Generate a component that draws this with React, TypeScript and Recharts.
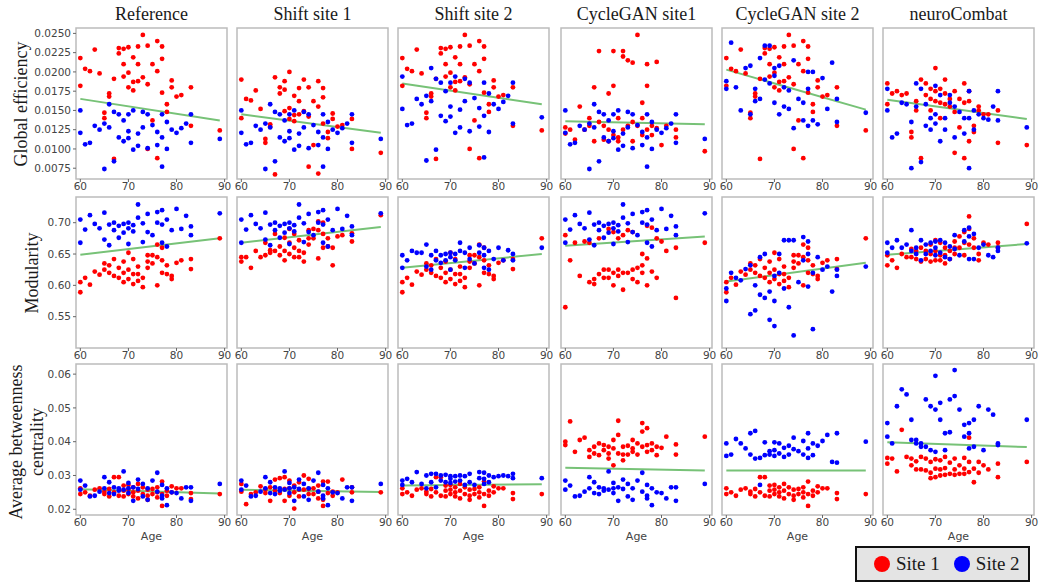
import React from 'react';
import { ScatterChart, Scatter, XAxis, YAxis, ReferenceArea, ReferenceLine } from 'recharts';

// ages are shared by every panel (same subjects)
const redAges = [60,60,61,62,63,64,65,65,66,66,67,67,68,68,69,69,69,70,70,70,71,71,71,72,72,72,73,73,74,74,74,75,75,76,76,76,77,77,77,78,78,79,79,80,81,83,83,89];
const blueAges = [60,60,61,62,63,64,65,65,66,66,67,67,68,68,69,69,70,70,70,71,71,72,72,73,73,74,74,75,76,76,77,77,77,78,78,79,80,81,82,83,83,89];

const titles = ['Reference', 'Shift site 1', 'Shift site 2', 'CycleGAN site1', 'CycleGAN site 2', 'neuroCombat'];
const xTicks = [60, 70, 80, 90];

// Global efficiency
const refRed1 = [0.0218,0.0182, 0.0204, 0.0201, 0.0229, 0.0198, 0.0147,0.0140, 0.0172,0.0168, 0.0191,0.0087, 0.0231,0.0224, 0.0210,0.0194,0.0230, 0.0232,0.0199,0.0180, 0.0219,0.0187,0.0176, 0.0233,0.0210,0.0188, 0.0248,0.0193, 0.0234,0.0184,0.0100, 0.0210,0.0137, 0.0240,0.0201,0.0088, 0.0233,0.0217,0.0173, 0.0158,0.0148, 0.0189,0.0180, 0.0168, 0.0170, 0.0180,0.0130, 0.0124];
const shift1Red1 = [0.0190,0.0140, 0.0165, 0.0163, 0.0176, 0.0152, 0.0113,0.0108, 0.0132,0.0129, 0.0193,0.0067, 0.0180,0.0172, 0.0188,0.0149,0.0177, 0.0200,0.0153,0.0139, 0.0169,0.0144,0.0136, 0.0179,0.0162,0.0145, 0.0190,0.0149, 0.0180,0.0142,0.0077, 0.0162,0.0105, 0.0188,0.0155,0.0068, 0.0179,0.0167,0.0133, 0.0122,0.0114, 0.0146,0.0139, 0.0129, 0.0131, 0.0139,0.0100, 0.0095];
const cg1Red1 = [0.0128,0.0120, 0.0125, 0.0112, 0.0155, 0.0125, 0.0140,0.0130, 0.0180,0.0110, 0.0227,0.0135, 0.0130,0.0112, 0.0172,0.0125,0.0110, 0.0227,0.0182,0.0118, 0.0140,0.0115,0.0110, 0.0227,0.0220,0.0125, 0.0215,0.0130, 0.0212,0.0135,0.0110, 0.0248,0.0130, 0.0160,0.0140,0.0118, 0.0210,0.0182,0.0125, 0.0130,0.0118, 0.0213,0.0127, 0.0105, 0.0130, 0.0125,0.0115, 0.0097];
const combatRed1 = [0.0185,0.0158, 0.0172, 0.0175, 0.0170, 0.0172, 0.0122,0.0115, 0.0162,0.0150, 0.0190,0.0088, 0.0185,0.0170, 0.0178,0.0165,0.0150, 0.0205,0.0175,0.0162, 0.0178,0.0160,0.0140, 0.0190,0.0172,0.0158, 0.0165,0.0155, 0.0175,0.0148,0.0095, 0.0165,0.0128, 0.0185,0.0160,0.0088, 0.0175,0.0162,0.0110, 0.0130,0.0122, 0.0155,0.0150, 0.0145, 0.0145, 0.0150,0.0108, 0.0105];
const refBlue1 = [0.0150,0.0121, 0.0106, 0.0108, 0.0130, 0.0125, 0.0133,0.0074, 0.0158,0.0128, 0.0148,0.0084, 0.0115,0.0145, 0.0137,0.0110, 0.0145,0.0123,0.0114, 0.0150,0.0099, 0.0120,0.0104, 0.0148,0.0128, 0.0145,0.0101, 0.0131, 0.0122,0.0105, 0.0145,0.0115,0.0077, 0.0135,0.0100, 0.0125, 0.0121, 0.0127, 0.0133, 0.0145,0.0108, 0.0113];
const shift2Blue1 = [0.0194,0.0152, 0.0131, 0.0133, 0.0165, 0.0158, 0.0169,0.0085, 0.0205,0.0162, 0.0191,0.0099, 0.0143,0.0186, 0.0175,0.0136, 0.0186,0.0155,0.0142, 0.0194,0.0121, 0.0151,0.0128, 0.0191,0.0162, 0.0186,0.0123, 0.0166, 0.0153,0.0129, 0.0186,0.0143,0.0089, 0.0172,0.0122, 0.0158, 0.0152, 0.0161, 0.0169, 0.0186,0.0133, 0.0141];
const cg2Blue1 = [0.0188,0.0178, 0.0238, 0.0180, 0.0150, 0.0205, 0.0208,0.0145, 0.0178,0.0162, 0.0165,0.0218, 0.0234,0.0190, 0.0234,0.0185, 0.0195,0.0160,0.0205, 0.0208,0.0145, 0.0155,0.0180, 0.0176,0.0152, 0.0215,0.0127, 0.0165, 0.0160,0.0137, 0.0200,0.0178,0.0130, 0.0137,0.0200, 0.0132, 0.0192, 0.0152, 0.0212, 0.0165,0.0135, 0.0147];
const combatBlue1 = [0.0178,0.0150, 0.0115, 0.0120, 0.0160, 0.0158, 0.0135,0.0075, 0.0185,0.0155, 0.0178,0.0083, 0.0130,0.0158, 0.0140,0.0125, 0.0182,0.0145,0.0133, 0.0170,0.0110, 0.0140,0.0125, 0.0170,0.0160, 0.0155,0.0115, 0.0148, 0.0140,0.0120, 0.0175,0.0140,0.0075, 0.0150,0.0125, 0.0145, 0.0140, 0.0138, 0.0155, 0.0175,0.0137, 0.0128];
const fits1 = [[0.0165,0.0137],[0.0145,0.0121],[0.0185,0.0158],[0.0136,0.0132],[0.0203,0.0151],[0.0164,0.0139]];

// Modularity
const refRed2 = [0.605,0.589, 0.612, 0.601, 0.622, 0.617, 0.635,0.625, 0.632,0.620, 0.642,0.615, 0.628,0.612, 0.638,0.620,0.605, 0.652,0.625,0.610, 0.642,0.618,0.602, 0.630,0.618,0.607, 0.612,0.597, 0.648,0.638,0.628, 0.648,0.635, 0.665,0.645,0.600, 0.660,0.640,0.620, 0.632,0.618, 0.615,0.610, 0.636, 0.640, 0.642,0.626, 0.675];
const shift1Red2 = [0.645,0.638, 0.645, 0.628, 0.655, 0.645, 0.668,0.648, 0.656,0.652, 0.682,0.655, 0.662,0.648, 0.676,0.655,0.640, 0.690,0.668,0.650, 0.682,0.660,0.645, 0.672,0.655,0.645, 0.652,0.638, 0.688,0.675,0.665, 0.690,0.675, 0.702,0.688,0.643, 0.700,0.682,0.660, 0.675,0.662, 0.660,0.632, 0.678, 0.680, 0.683,0.670, 0.712];
const cg1Red2 = [0.680,0.565, 0.640, 0.668, 0.615, 0.670, 0.668,0.605, 0.610,0.602, 0.675,0.618, 0.625,0.612, 0.690,0.625,0.612, 0.685,0.620,0.600, 0.675,0.625,0.615, 0.680,0.620,0.593, 0.688,0.620, 0.685,0.625,0.610, 0.628,0.605, 0.650,0.632,0.620, 0.695,0.643,0.600, 0.692,0.622, 0.675,0.612, 0.670, 0.655, 0.660,0.580, 0.668];
const combatRed2 = [0.648,0.632, 0.640, 0.628, 0.650, 0.645, 0.658,0.645, 0.655,0.642, 0.660,0.638, 0.655,0.642, 0.665,0.650,0.638, 0.672,0.655,0.640, 0.668,0.648,0.640, 0.660,0.648,0.635, 0.655,0.642, 0.670,0.660,0.650, 0.678,0.660, 0.685,0.668,0.648, 0.710,0.690,0.665, 0.675,0.660, 0.650,0.640, 0.668, 0.665, 0.668,0.660, 0.698];
const refBlue2 = [0.705,0.668, 0.689, 0.712, 0.698, 0.691, 0.716,0.673, 0.697,0.664, 0.700,0.688, 0.695,0.676, 0.698,0.684, 0.700,0.691,0.666, 0.696,0.686, 0.729,0.708, 0.699,0.669, 0.714,0.685, 0.680, 0.717,0.700, 0.720,0.697,0.668, 0.705,0.662, 0.688, 0.722, 0.690, 0.711, 0.694,0.680, 0.715];
const shift2Blue2 = [0.648,0.628, 0.640, 0.655, 0.652, 0.652, 0.665,0.630, 0.648,0.625, 0.655,0.640, 0.648,0.636, 0.650,0.640, 0.652,0.645,0.625, 0.650,0.640, 0.668,0.655, 0.652,0.628, 0.660,0.642, 0.635, 0.664,0.652, 0.660,0.648,0.628, 0.655,0.625, 0.642, 0.660, 0.640, 0.656, 0.650,0.640, 0.660];
const cg2Blue2 = [0.595,0.575, 0.620, 0.612, 0.608, 0.626, 0.632,0.554, 0.600,0.560, 0.645,0.585, 0.650,0.580, 0.590,0.545, 0.615,0.575,0.535, 0.650,0.620, 0.672,0.595, 0.672,0.565, 0.672,0.520, 0.605, 0.677,0.640, 0.670,0.650,0.598, 0.620,0.530, 0.645, 0.625, 0.630, 0.590, 0.625,0.615, 0.630];
const combatBlue2 = [0.668,0.652, 0.660, 0.672, 0.660, 0.665, 0.688,0.655, 0.660,0.650, 0.672,0.640, 0.665,0.650, 0.668,0.655, 0.670,0.660,0.648, 0.672,0.652, 0.668,0.645, 0.662,0.642, 0.680,0.658, 0.648, 0.688,0.670, 0.692,0.678,0.642, 0.682,0.642, 0.660, 0.665, 0.648, 0.645, 0.660,0.655, 0.667];
const fits2 = [[0.649,0.675],[0.668,0.693],[0.628,0.650],[0.663,0.678],[0.606,0.636],[0.649,0.666]];

// Average betweenness centrality
const refRed3 = [0.0262,0.0245, 0.0250, 0.0240, 0.0258, 0.0262, 0.0252,0.0245, 0.0260,0.0238, 0.0295,0.0250, 0.0295,0.0240, 0.0270,0.0255,0.0238, 0.0272,0.0258,0.0245, 0.0265,0.0250,0.0238, 0.0275,0.0255,0.0232, 0.0265,0.0245, 0.0258,0.0240,0.0228, 0.0260,0.0245, 0.0265,0.0250,0.0235, 0.0282,0.0245,0.0210, 0.0255,0.0240, 0.0268,0.0250, 0.0262, 0.0262, 0.0248,0.0230, 0.0245];
const shift1Red3 = [0.0275,0.0252, 0.0215, 0.0245, 0.0250, 0.0268, 0.0258,0.0248, 0.0265,0.0225, 0.0288,0.0255, 0.0292,0.0248, 0.0295,0.0260,0.0225, 0.0285,0.0262,0.0240, 0.0270,0.0250,0.0202, 0.0280,0.0258,0.0238, 0.0300,0.0258, 0.0290,0.0260,0.0245, 0.0262,0.0245, 0.0270,0.0252,0.0232, 0.0282,0.0228,0.0210, 0.0282,0.0248, 0.0252,0.0240, 0.0250, 0.0288, 0.0265,0.0250, 0.0250];
const cg1Red3 = [0.0400,0.0390, 0.0460, 0.0370, 0.0405, 0.0412, 0.0375,0.0355, 0.0385,0.0365, 0.0395,0.0360, 0.0390,0.0375, 0.0385,0.0365,0.0350, 0.0405,0.0380,0.0330, 0.0462,0.0420,0.0365, 0.0385,0.0362,0.0345, 0.0388,0.0362, 0.0405,0.0380,0.0370, 0.0395,0.0362, 0.0455,0.0430,0.0385, 0.0440,0.0390,0.0370, 0.0395,0.0375, 0.0385,0.0360, 0.0382, 0.0415, 0.0392,0.0362, 0.0415];
const combatRed3 = [0.0352,0.0335, 0.0350, 0.0312, 0.0435, 0.0355, 0.0350,0.0330, 0.0342,0.0318, 0.0355,0.0318, 0.0350,0.0315, 0.0340,0.0308,0.0292, 0.0348,0.0320,0.0295, 0.0345,0.0318,0.0300, 0.0355,0.0322,0.0302, 0.0338,0.0305, 0.0350,0.0318,0.0302, 0.0330,0.0305, 0.0352,0.0320,0.0305, 0.0412,0.0340,0.0310, 0.0320,0.0280, 0.0340,0.0308, 0.0330, 0.0318, 0.0335,0.0295, 0.0340];
const refBlue3 = [0.0285,0.0258, 0.0270, 0.0238, 0.0240, 0.0252, 0.0295,0.0262, 0.0280,0.0248, 0.0265,0.0245, 0.0255,0.0262, 0.0312,0.0258, 0.0278,0.0262,0.0248, 0.0265,0.0225, 0.0288,0.0260, 0.0275,0.0238, 0.0262,0.0228, 0.0285, 0.0308,0.0252, 0.0272,0.0240,0.0232, 0.0262,0.0212, 0.0250, 0.0248, 0.0232, 0.0265, 0.0265,0.0225, 0.0275];
const shift2Blue3 = [0.0285,0.0272, 0.0290, 0.0280, 0.0310, 0.0275, 0.0300,0.0262, 0.0305,0.0280, 0.0305,0.0265, 0.0300,0.0285, 0.0302,0.0280, 0.0298,0.0290,0.0278, 0.0298,0.0282, 0.0300,0.0285, 0.0298,0.0272, 0.0305,0.0280, 0.0272, 0.0310,0.0292, 0.0308,0.0290,0.0275, 0.0300,0.0280, 0.0295, 0.0298, 0.0300, 0.0298, 0.0305,0.0292, 0.0292];
const cg2Blue3 = [0.0395,0.0358, 0.0362, 0.0408, 0.0395, 0.0380, 0.0425,0.0362, 0.0432,0.0350, 0.0352,0.0272, 0.0398,0.0360, 0.0372,0.0362, 0.0398,0.0375,0.0358, 0.0395,0.0365, 0.0382,0.0355, 0.0388,0.0362, 0.0412,0.0378, 0.0372, 0.0402,0.0362, 0.0425,0.0380,0.0352, 0.0395,0.0360, 0.0388, 0.0402, 0.0420, 0.0340, 0.0425,0.0338, 0.0400];
const combatBlue3 = [0.0455,0.0415, 0.0395, 0.0505, 0.0555, 0.0540, 0.0465,0.0405, 0.0405,0.0395, 0.0385,0.0395, 0.0525,0.0385, 0.0505,0.0375, 0.0595,0.0495,0.0370, 0.0515,0.0465, 0.0425,0.0375, 0.0525,0.0428, 0.0612,0.0535, 0.0495, 0.0450,0.0415, 0.0455,0.0425,0.0380, 0.0465,0.0385, 0.0505, 0.0375, 0.0495, 0.0480, 0.0395,0.0390, 0.0465];
const fits3 = [[0.0259,0.0247],[0.0258,0.0251],[0.0270,0.0274],[0.0323,0.0315],[0.0315,0.0315],[0.0398,0.0384]];

const X_DOMAIN: [number, number] = [59.1, 90.5];
const COL_LEFT = [76, 237, 398, 561, 722, 883];
const ROW_TOP = [28, 197, 364];
const PW = 151;
const PH = 151;
const Y_W = 60;
const X_H = 22;
const PAD = 12;
const RED = '#ff0000';
const BLUE = '#0000ff';
const GREEN = '#77c277';
const SERIF = '"Liberation Serif", "Times New Roman", serif';
const SANS = '"DejaVu Sans", sans-serif';

const toPts = (ages: number[], vals: number[]) => ages.map((x, i) => ({ x, y: vals[i] }));

const rows = [
  {
    domain: [0.0061, 0.0257] as [number, number],
    ticks: [0.0075, 0.01, 0.0125, 0.015, 0.0175, 0.02, 0.0225, 0.025],
    fmt: (v: number) => v.toFixed(4),
    red: [refRed1, shift1Red1, refRed1, cg1Red1, refRed1, combatRed1],
    blue: [refBlue1, refBlue1, shift2Blue1, refBlue1, cg2Blue1, combatBlue1],
    fits: fits1,
  },
  {
    domain: [0.5, 0.741] as [number, number],
    ticks: [0.55, 0.6, 0.65, 0.7],
    fmt: (v: number) => v.toFixed(2),
    red: [refRed2, shift1Red2, refRed2, cg1Red2, refRed2, combatRed2],
    blue: [refBlue2, refBlue2, shift2Blue2, refBlue2, cg2Blue2, combatBlue2],
    fits: fits2,
  },
  {
    domain: [0.0183, 0.063] as [number, number],
    ticks: [0.02, 0.03, 0.04, 0.05, 0.06],
    fmt: (v: number) => v.toFixed(2),
    red: [refRed3, shift1Red3, refRed3, cg1Red3, refRed3, combatRed3],
    blue: [refBlue3, refBlue3, shift2Blue3, refBlue3, cg2Blue3, combatBlue3],
    fits: fits3,
  },
];

const dot = (color: string) => (props: any) => (
  <circle cx={props.cx} cy={props.cy} r={2.4} fill={color} />
);

const tickStyle = { fontSize: 10.5, fill: '#444', fontFamily: SANS };

const Panel = ({ row, col }: { row: number; col: number }) => {
  const r = rows[row];
  const showY = col === 0;
  const fit = r.fits[col];
  const leftPad = showY ? 0 : PAD;
  return (
    <div style={{ position: 'absolute', left: COL_LEFT[col] - (showY ? Y_W : leftPad), top: ROW_TOP[row] - 1 }}>
      <ScatterChart
        width={PW + (showY ? Y_W : leftPad) + PAD}
        height={PH + 1 + X_H}
        margin={{ top: 1, right: PAD, bottom: 0, left: leftPad }}
      >
        <XAxis
          type="number"
          dataKey="x"
          domain={X_DOMAIN}
          ticks={xTicks}
          interval={0}
          height={X_H}
          axisLine={false}
          tickSize={3}
          tickMargin={1}
          tickLine={{ stroke: '#666' }}
          tick={tickStyle}
        />
        <YAxis
          type="number"
          dataKey="y"
          domain={r.domain}
          ticks={r.ticks}
          interval={0}
          hide={!showY}
          width={showY ? Y_W : 0}
          axisLine={false}
          tickSize={3}
          tickMargin={2}
          tickLine={{ stroke: '#666' }}
          tickFormatter={r.fmt}
          tick={tickStyle}
        />
        <ReferenceArea
          x1={X_DOMAIN[0]}
          x2={X_DOMAIN[1]}
          y1={r.domain[0]}
          y2={r.domain[1]}
          fill="#ffffff"
          fillOpacity={0}
          stroke="#bcbcbc"
          strokeWidth={1.5}
        />
        <Scatter data={toPts(redAges, r.red[col])} fill={RED} shape={dot(RED)} isAnimationActive={false} />
        <Scatter data={toPts(blueAges, r.blue[col])} fill={BLUE} shape={dot(BLUE)} isAnimationActive={false} />
        <ReferenceLine
          segment={[{ x: 60, y: fit[0] }, { x: 89, y: fit[1] }]}
          stroke={GREEN}
          strokeWidth={2}
        />
      </ScatterChart>
    </div>
  );
};

const rotated = (cx: number, cy: number, w: number, h: number): React.CSSProperties => ({
  position: 'absolute',
  left: cx - w / 2,
  top: cy - h / 2,
  width: w,
  height: h,
  transform: 'rotate(-90deg)',
  textAlign: 'center',
  fontFamily: SERIF,
  fontSize: 18,
  lineHeight: '21px',
  color: '#1a1a1a',
});

const App = () => (
  <div style={{ position: 'fixed', left: 0, top: 0, width: 1039, height: 584, background: '#fff', overflow: 'hidden' }}>
    {titles.map((t, i) => (
      <div
        key={t}
        style={{ position: 'absolute', left: COL_LEFT[i] - 20, top: 4, width: PW + 40, textAlign: 'center', fontFamily: SERIF, fontSize: 18, color: '#1a1a1a' }}
      >
        {t}
      </div>
    ))}
    <div style={rotated(22, 104, 170, 22)}>Global efficiency</div>
    <div style={rotated(33, 273, 170, 22)}>Modularity</div>
    <div style={rotated(28, 442, 180, 44)}>
      Average betweenness
      <br />
      centrality
    </div>
    {rows.map((_, ri) => COL_LEFT.map((_, ci) => <Panel key={`${ri}-${ci}`} row={ri} col={ci} />))}
    {COL_LEFT.map((l, i) => (
      <div key={i} style={{ position: 'absolute', left: l, top: 530, width: PW, textAlign: 'center', fontFamily: SANS, fontSize: 11, color: '#444' }}>
        Age
      </div>
    ))}
    <div
      style={{
        position: 'absolute', left: 855, top: 546, width: 171, height: 32, border: '2px solid #111',
        background: '#e4e4e4', display: 'flex', alignItems: 'center', fontFamily: SERIF, fontSize: 19, color: '#1a1a1a',
      }}
    >
      <span style={{ width: 16, height: 16, borderRadius: 8, background: RED, marginLeft: 17, marginRight: 6 }} />
      Site 1
      <span style={{ width: 16, height: 16, borderRadius: 8, background: BLUE, marginLeft: 14, marginRight: 6 }} />
      Site 2
    </div>
  </div>
);

export default App;
